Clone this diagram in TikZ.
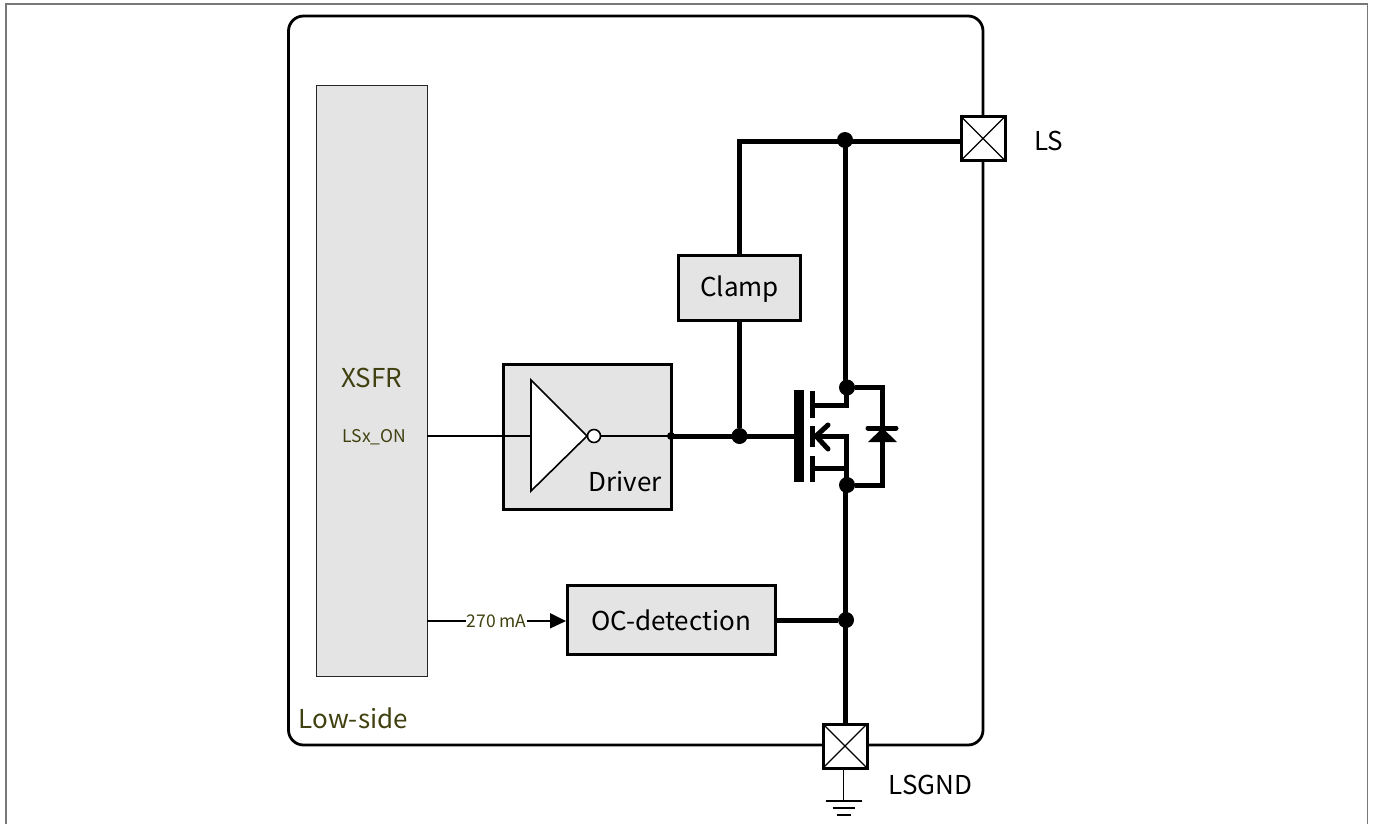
\documentclass[tikz,border=0pt]{standalone}
\usepackage{fontspec}
\setmainfont{Noto Sans CJK SC}
\definecolor{boxgray}{RGB}{228,228,228}
\definecolor{olivetxt}{RGB}{64,64,16}
\definecolor{framegray}{RGB}{120,120,120}
\newcommand{\fa}{\fontsize{26}{30}\selectfont}
\newcommand{\fb}{\fontsize{17.5}{20}\selectfont}
\tikzset{
 x=1pt,y=-1pt,
 blockbox/.style={draw=black,line width=3pt,fill=boxgray,inner sep=0pt},
 thin wire/.style={line width=1.6pt},
 bus/.style={line width=5pt},
 mos/.style={line width=5pt},
 dot/.style={circle,fill=black,inner sep=0pt,minimum size=16pt},
 pad/.style={draw=black,line width=3pt,fill=white,inner sep=0pt,minimum size=44pt,rectangle,path picture={\draw[line width=1.3pt] (path picture bounding box.north west)--(path picture bounding box.south east) (path picture bounding box.north east)--(path picture bounding box.south west);}},
 lab/.style={font=\fa,inner sep=0pt},
 olive/.style={font=\fa,inner sep=0pt,text=olivetxt},
 olivesmall/.style={font=\fb,inner sep=0pt,text=olivetxt},
}
\begin{document}
\begin{tikzpicture}[line join=miter]
\useasboundingbox (0,0) rectangle (1373,823);
% outer frame
\draw[framegray,line width=1.4pt] (6,830) -- (6,4) -- (1367.5,4) -- (1367.5,830);
% chip
\draw[line width=2.8pt,rounded corners=15pt] (288.5,16) rectangle (983,745);
% XSFR
\node[draw=black!85,line width=1.4pt,fill=boxgray,minimum width=110.5pt,minimum height=591pt,inner sep=0pt,anchor=north west] (xsfr) at (316,85) {};
\node[olive] (xsfrlab) at (371.5,378) {XSFR};
\node[olivesmall] (lsxon) at (374.5,437) {LSx\_ON};
\node[olive,anchor=west] (lowside) at (298.5,718) {Low-side};
% Driver
\node[blockbox,minimum width=168pt,minimum height=145pt,anchor=north west] (driver) at (501.7,363) {};
\node[lab,anchor=south east] (driverlab) at (662,492) {Driver};
\coordinate (ctl) at (427,436);
\coordinate (invin) at (531,436);
\draw[thin wire] (ctl) -- (invin);
\path[draw,fill=white,line width=1.6pt,line join=miter] (531,380) -- (587,436) -- (531,491) -- cycle;
\node[circle,draw,fill=white,line width=1.6pt,minimum size=13pt,inner sep=0pt] (bubble) at (594,436) {};
\coordinate (drvout) at (671,436);
\draw[thin wire] (bubble) -- (drvout);
\fill (drvout) circle (4pt);
% Clamp
\node[blockbox,minimum width=122pt,minimum height=65.4pt,anchor=north west] (clamp) at (677,254) {};
\node[lab] (clamplab) at (739.5,289) {Clamp};
% OC-detection
\node[blockbox,minimum width=208pt,minimum height=69.4pt,anchor=north west] (oc) at (565.5,584) {};
\node[lab] (oclab) at (671,620) {OC-detection};
% pads
\node[pad] (ls) at (983,138.5) {};
\node[pad] (lsgnd) at (845,746) {};
\node[lab] (lslab) at (1048.5,141) {LS};
\node[lab] (lsgndlab) at (930.5,785) {LSGND};
% junctions
\node[dot] (jtop) at (845,140) {};
\node[dot] (jd) at (847,387.5) {};
\node[dot] (js) at (847,485) {};
\node[dot] (joc) at (846,620) {};
\node[dot] (jg) at (739.5,436) {};
% thick wires
\coordinate (tl) at (739.5,141);
\draw[bus,line join=miter] (clamp.north -| tl) -- (tl) -- (ls.west |- tl);
\draw[bus] (tl |- clamp.south) -- (jg);
\draw[bus] (drvout) -- (795,436);
\draw[bus] (845.5,140) -- (845.5,387);
\draw[bus] (845.5,485) -- (845.5,724);
\draw[bus] (oc.east |- joc) -- (joc);
% mosfet
\draw[line width=10pt] (799,390) -- (799,482);
\draw[mos] (812,391) -- (812,418) (812,426) -- (812,447) (812,456) -- (812,482);
\draw[mos] (812,405) -- (846,405) -- (846,387);
\draw[mos] (812,468.5) -- (846,468.5) -- (846,485);
\draw[mos] (815,436) -- (846,436) -- (846,468.5);
\draw[mos,line cap=round] (828,425) -- (816,436) -- (828,449);
% diode
\draw[mos] (jd) -- (882,387.5) -- (882,485) -- (js);
\fill (868,442) -- (897,442) -- (882.5,428) -- cycle;
\draw[mos,line cap=round] (868,428) -- (896,428);
% OC input
\coordinate (ocin) at (427,621);
\draw[thin wire] (ocin) -- (466,621);
\node[olivesmall,anchor=west] (ma) at (466.5,621) {270 mA};
\draw[thin wire] (527,621) -- (552,621);
\fill (550,613) -- (566,621) -- (550,628.5) -- cycle;
% ground
\coordinate (g) at (843.5,801);
\draw[thin wire] (lsgnd.south -| g) -- (g);
\draw[thin wire] (g) ++(-18,0) -- ++(36,0);
\draw[thin wire] (g) ++(-11,7) -- ++(22,0);
\draw[thin wire] (g) ++(-7,14) -- ++(14,0);
\end{tikzpicture}
\end{document}
